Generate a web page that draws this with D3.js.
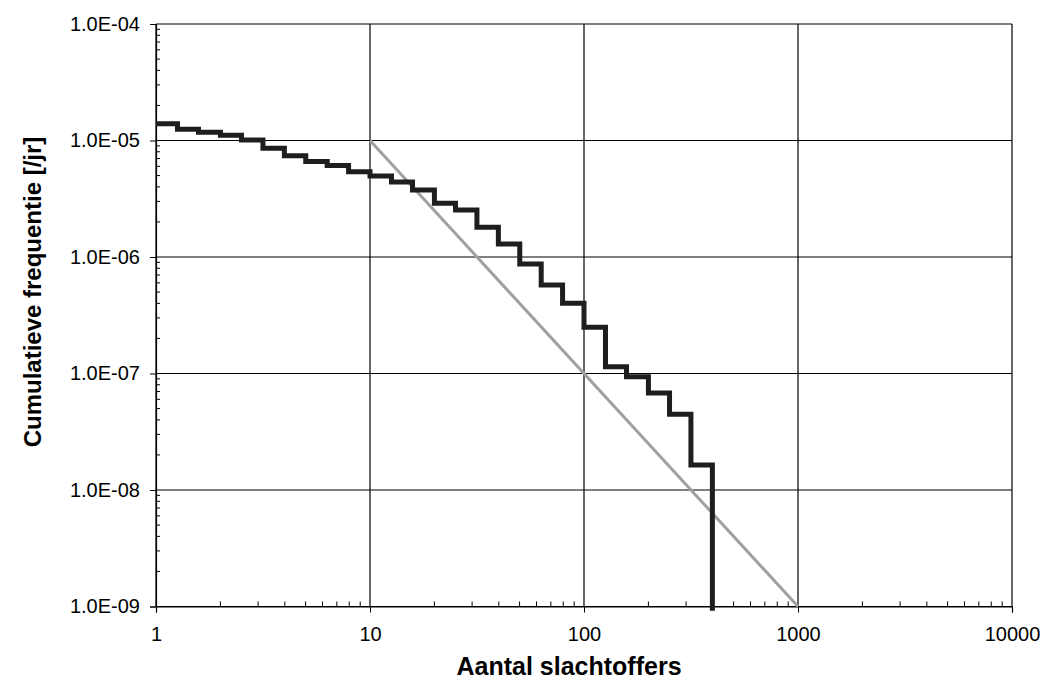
<!DOCTYPE html>
<meta charset="utf-8">
<style>
  body { margin: 0; background: #fff; }
  text { font-family: "Liberation Sans", Arial, sans-serif; fill: #000; }
</style>
<svg width="1042" height="683"></svg>

<script src="https://d3js.org/d3.v7.min.js"></script>
<script>

// step curve: number of victims where each step starts, and the frequency on that step
var stepN = [1, 1.26, 1.58, 2, 2.51, 3.16, 3.98, 5.01, 6.31, 7.94,
             10, 12.6, 15.8, 20, 25.1, 31.6, 39.8, 50.1, 63.1, 79.4,
             100, 126, 158, 200, 251, 316, 398]
var stepFreq = [1.39e-5, 1.25e-5, 1.18e-5, 1.11e-5, 1.01e-5, 8.6e-6, 7.4e-6, 6.6e-6, 6.1e-6, 5.4e-6,
                4.96e-6, 4.4e-6, 3.76e-6, 2.89e-6, 2.53e-6, 1.80e-6, 1.29e-6, 8.7e-7, 5.75e-7, 4.0e-7,
                2.5e-7, 1.14e-7, 9.4e-8, 6.8e-8, 4.47e-8, 1.64e-8, 9.2e-10]

// reference (norm) line
var refN = [10, 1000]
var refFreq = [1e-5, 1e-9]

// axis ticks
var xTicks = [1, 10, 100, 1000, 10000]
var xTickLabels = ["1", "10", "100", "1000", "10000"]
var yTicks = [1e-9, 1e-8, 1e-7, 1e-6, 1e-5, 1e-4]
var yTickLabels = ["1.0E-09", "1.0E-08", "1.0E-07", "1.0E-06", "1.0E-05", "1.0E-04"]

var svg = d3.select("svg")
var plotLeft = 156, plotRight = 1012, plotTop = 24, plotBottom = 606.5

var x = d3.scaleLog().domain([1, 10000]).range([plotLeft, plotRight])
var y = d3.scaleLog().domain([1e-9, 1e-4]).range([plotBottom, plotTop])

// minor tick values (2..9 per decade)
function minors(decades) {
  var out = []
  for (var i = 0; i < decades.length - 1; i++) {
    for (var k = 2; k <= 9; k++) out.push(decades[i] * k)
  }
  return out
}

// gridlines
var grid = svg.append("g")
grid.selectAll(".vg").data(xTicks).enter().append("line")
  .attr("x1", function (d) { return x(d) }).attr("x2", function (d) { return x(d) })
  .attr("y1", plotTop).attr("y2", plotBottom)
  .attr("stroke", "#000").attr("stroke-width", 1.2)
grid.selectAll(".hg").data(yTicks).enter().append("line")
  .attr("y1", function (d) { return y(d) }).attr("y2", function (d) { return y(d) })
  .attr("x1", plotLeft).attr("x2", plotRight)
  .attr("stroke", "#000").attr("stroke-width", 1.2)

// minor ticks, pointing inward
grid.selectAll(".mx").data(minors(xTicks)).enter().append("line")
  .attr("x1", function (d) { return x(d) }).attr("x2", function (d) { return x(d) })
  .attr("y1", plotBottom).attr("y2", plotBottom - 5)
  .attr("stroke", "#000")
grid.selectAll(".my").data(minors(yTicks)).enter().append("line")
  .attr("y1", function (d) { return y(d) }).attr("y2", function (d) { return y(d) })
  .attr("x1", plotLeft).attr("x2", plotLeft + 4)
  .attr("stroke", "#000")

// axes (major ticks outward + labels)
var xAxis = d3.axisBottom(x).tickValues(xTicks)
  .tickFormat(function (d, i) { return xTickLabels[i] })
  .tickSize(6).tickPadding(14)
svg.append("g").attr("transform", "translate(0," + plotBottom + ")").call(xAxis)
  .call(function (g) { g.select(".domain").attr("stroke-width", 1.2) })
  .selectAll("text").style("font-size", "20px")

var yAxis = d3.axisLeft(y).tickValues(yTicks)
  .tickFormat(function (d, i) { return yTickLabels[i] })
  .tickSize(6).tickPadding(10)
svg.append("g").attr("transform", "translate(" + plotLeft + ",0)").call(yAxis)
  .call(function (g) { g.select(".domain").attr("stroke-width", 1.2) })
  .selectAll("text").style("font-size", "20px")

svg.selectAll(".domain").attr("stroke", "#000")
svg.selectAll(".tick line").attr("stroke", "#000")

// reference line
var refLine = d3.line()
  .x(function (d) { return x(d[0]) })
  .y(function (d) { return y(d[1]) })
svg.append("path")
  .datum(d3.zip(refN, refFreq))
  .attr("d", refLine)
  .attr("fill", "none")
  .attr("stroke", "#a0a0a0")
  .attr("stroke-width", 3)

// step curve
var stepLine = d3.line()
  .curve(d3.curveStepAfter)
  .x(function (d) { return x(d[0]) })
  .y(function (d) { return y(d[1]) })
svg.append("path")
  .datum(d3.zip(stepN, stepFreq))
  .attr("d", stepLine)
  .attr("fill", "none")
  .attr("stroke", "#1e1e1e")
  .attr("stroke-width", 5)

// titles
svg.append("text")
  .attr("x", 569).attr("y", 675)
  .attr("text-anchor", "middle")
  .style("font-size", "25px").style("font-weight", "bold")
  .text("Aantal slachtoffers")

svg.append("text")
  .attr("transform", "translate(41,292) rotate(-90)")
  .attr("text-anchor", "middle")
  .style("font-size", "24px").style("font-weight", "bold")
  .text("Cumulatieve frequentie [/jr]")

</script>
